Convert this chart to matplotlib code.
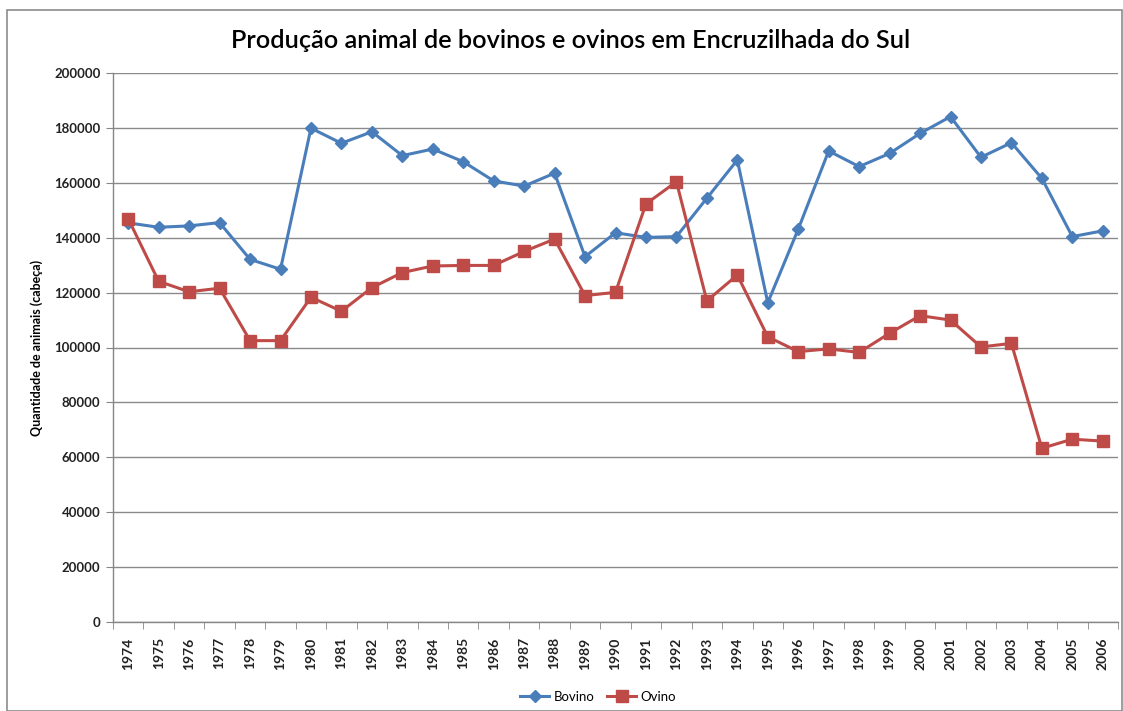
import matplotlib
matplotlib.use("Agg")
import matplotlib.pyplot as plt
from matplotlib.patches import Rectangle
import numpy as np

years = list(range(1974, 2007))
bovino = [145400, 143800, 144300, 145500, 132100, 128500, 179900, 174400, 178600,
          169900, 172300, 167700, 160700, 158800, 163500, 133100, 141800, 140100,
          140400, 154400, 168300, 116300, 143100, 171600, 165900, 170700, 178000,
          184100, 169300, 174600, 161600, 140400, 142500]
ovino = [146900, 124100, 120300, 121600, 102500, 102500, 118300, 113200, 121800,
         127300, 129700, 129900, 129900, 135000, 139500, 118900, 120100, 152300,
         160400, 117000, 126400, 103900, 98500, 99500, 98200, 105200, 111600,
         110000, 100200, 101500, 63300, 66600, 65900]
y_ticks = list(range(0, 200001, 20000))

plt.rcParams['font.family'] = ['Lato', 'DejaVu Sans']

fig = plt.figure(figsize=(11.23, 7.11), dpi=100)
fig.patches.append(Rectangle((7/1123, 0.0), 1 - 7/1123 - 0.001, 1 - 10/711,
                             transform=fig.transFigure, fill=False,
                             edgecolor='#8c8c8c', linewidth=1.2))
ax = fig.add_axes([113/1123, 1 - 622/711, 1005/1123, 549/711])

x = np.arange(len(years))
ax.plot(x, bovino, color='#4A7EBB', linewidth=2.2, marker='D', markersize=6.5,
        label='Bovino', zorder=3)
ax.plot(x, ovino, color='#BE4B48', linewidth=2.2, marker='s', markersize=8.5,
        label='Ovino', zorder=3)

ax.set_xlim(-0.5, len(years) - 0.5)
ax.set_ylim(0, 200000)
ax.set_yticks(y_ticks)
ax.set_yticklabels([str(v) for v in y_ticks], fontsize=9.5, fontweight='bold', color='#222222')
ax.set_xticks(x)
ax.set_xticklabels([str(y) for y in years], rotation=90, fontsize=10, fontweight='bold', color='#222222')
ax.tick_params(axis='x', length=0, pad=11)
ax.set_xticks(np.arange(-0.5, len(years), 1), minor=True)
ax.tick_params(axis='x', which='minor', length=5, color='#868686', direction='out')
ax.tick_params(axis='y', length=5, color='#868686', direction='out', pad=4)

ax.grid(axis='y', color='#8a8a8a', linewidth=1.0)
ax.set_axisbelow(True)
for s in ['top', 'right']:
    ax.spines[s].set_visible(False)
for s in ['left', 'bottom']:
    ax.spines[s].set_color('#868686')
    ax.spines[s].set_linewidth(1.0)

ax.set_ylabel('Quantidade de animais (cabeça)', fontsize=9, fontweight='bold', labelpad=8)

fig.text(571/1123, 1 - 40/711, 'Produção animal de bovinos e ovinos em Encruzilhada do Sul',
         ha='center', va='center', fontsize=18.2, fontweight='semibold')

leg = fig.legend(loc='center', bbox_to_anchor=(598/1123, 1 - 697/711), ncol=2,
                 frameon=False, fontsize=9.5, handlelength=2.2, columnspacing=1.0,
                 handletextpad=0.3)

fig.savefig('out.png', dpi=100)
